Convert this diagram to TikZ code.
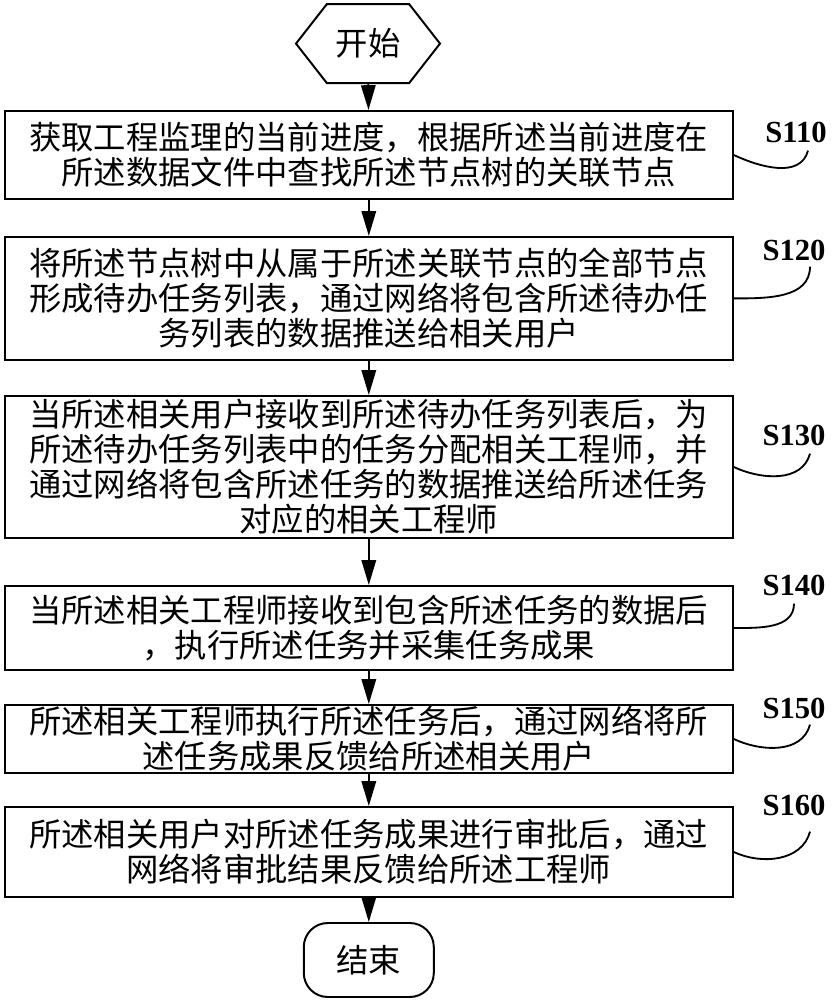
\documentclass[tikz,border=0pt]{standalone}
\usepackage{fontspec}
\newfontfamily\cjk{Noto Sans CJK SC}
\newfontfamily\labelfont{Liberation Serif}
\usepackage{tikz}
\usetikzlibrary{positioning,arrows.meta,shapes.symbols}
\tikzset{
  procbox/.style={rectangle,draw=black,line width=1.4pt,align=center,minimum width=18.2cm,inner sep=0pt,font={\cjk\fontsize{23}{24.9}\selectfont}},
  startbox/.style={signal,signal to=west and east,signal pointer angle=104,draw=black,line width=1.4pt,minimum width=3.6cm,minimum height=1.975cm,inner sep=0pt,font={\cjk\fontsize{23}{24.9}\selectfont}},
  endbox/.style={rectangle,rounded corners=0.6cm,draw=black,line width=1.4pt,minimum width=3.25cm,minimum height=1.85cm,inner sep=0pt,font={\cjk\fontsize{23}{24.9}\selectfont}},
  steplabel/.style={inner sep=0pt,font={\labelfont\bfseries\fontsize{21.8}{23}\selectfont}},
  flowedge/.style={-{Triangle[length=0.62cm,width=0.36cm]},line width=1.3pt},
  leadline/.style={line width=1.3pt}
}
\begin{document}
\begin{tikzpicture}
  \useasboundingbox (0,0) rectangle (20.775,-25);

  \node[startbox] (start) at (9.2,-1.09) {开始};
  \node[procbox,minimum height=2.2cm] (s1) at (9.22,-3.875) {获取工程监理的当前进度，根据所述当前进度在\\所述数据文件中查找所述节点树的关联节点};
  \node[procbox,minimum height=3.075cm] (s2) at (9.22,-7.46) {将所述节点树中从属于所述关联节点的全部节点\\形成待办任务列表，通过网络将包含所述待办任\\务列表的数据推送给相关用户};
  \node[procbox,minimum height=3.55cm] (s3) at (9.22,-11.675) {当所述相关用户接收到所述待办任务列表后，为\\所述待办任务列表中的任务分配相关工程师，并\\通过网络将包含所述任务的数据推送给所述任务\\对应的相关工程师};
  \node[procbox,minimum height=2.1cm] (s4) at (9.22,-15.7) {当所述相关工程师接收到包含所述任务的数据后\\，执行所述任务并采集任务成果};
  \node[procbox,minimum height=1.7cm] (s5) at (9.22,-18.475) {所述相关工程师执行所述任务后，通过网络将所\\述任务成果反馈给所述相关用户};
  \node[procbox,minimum height=2.25cm] (s6) at (9.22,-21.3) {所述相关用户对所述任务成果进行审批后，通过\\网络将审批结果反馈给所述工程师};
  \node[endbox] (stop) at (9.22,-24.0) {结束};

  % step numbers
  \node[steplabel] (l1) at (19.9,-3.3) {S110};
  \node[steplabel] (l2) at (19.85,-6.25) {S120};
  \node[steplabel] (l3) at (19.85,-10.875) {S130};
  \node[steplabel] (l4) at (19.85,-14.625) {S140};
  \node[steplabel] (l5) at (19.85,-17.7) {S150};
  \node[steplabel] (l6) at (19.85,-20.125) {S160};

  \draw[flowedge] (start) -- (s1);
  \draw[flowedge] (s1) -- (s2);
  \draw[flowedge] (s2) -- (s3);
  \draw[flowedge] (s3) -- (s4);
  \draw[flowedge] (s4) -- (s5);
  \draw[flowedge] (s5) -- (s6);
  \draw[flowedge] (s6) -- (stop);

  \draw[leadline] (s1.east) to[out=-25,in=-105] ([xshift=0.3cm,yshift=-0.2cm]l1.south);
  \draw[leadline] (s2.east) to[out=0,in=-90] ([xshift=0.4cm,yshift=-0.15cm]l2.south);
  \draw[leadline] (s3.east) to[out=-25,in=-105] ([xshift=0.4cm,yshift=-0.2cm]l3.south);
  \draw[leadline] (s4.east) to[out=0,in=-90] ([yshift=-0.2cm]l4.south);
  \draw[leadline] (s5.east) to[out=-25,in=-105] ([xshift=0.4cm,yshift=-0.15cm]l5.south);
  \draw[leadline] (s6.east) to[out=-25,in=-105] ([xshift=0.4cm,yshift=-0.4cm]l6.south);
\end{tikzpicture}
\end{document}
